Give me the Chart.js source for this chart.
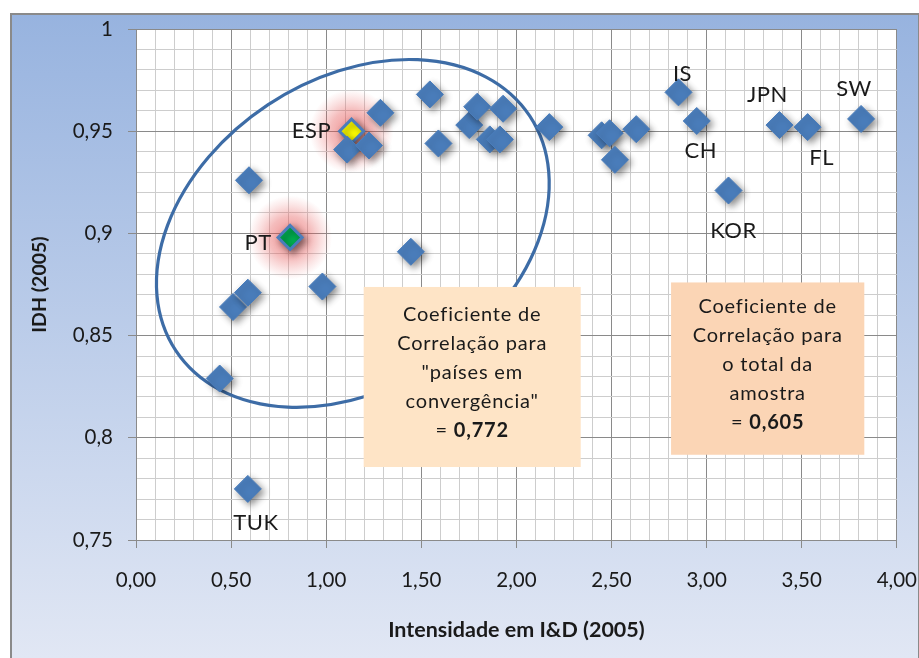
<!DOCTYPE html>
<html lang="pt">
<head>
<meta charset="UTF-8">
<title>IDH vs Intensidade em I&amp;D (2005)</title>
<script src="https://cdn.jsdelivr.net/npm/chart.js@4.4.1/dist/chart.umd.min.js"></script>
<style>
    body { margin: 0; background: #ffffff; }
    #wrap { width: 919px; height: 658px; }
</style>
</head>
<body>
<div id="wrap"><canvas id="idhChart" width="919" height="658"></canvas></div>
<script>
// Países (pontos azuis)
const intensidadeID = [0.44, 0.51, 0.588, 0.594, 0.588, 0.98, 1.11, 1.225, 1.285, 1.445,
    1.545, 1.59, 1.752, 1.794, 1.86, 1.913, 1.93, 2.173, 2.448, 2.49,
    2.518, 2.63, 2.852, 2.948, 3.115, 3.383, 3.531, 3.812];
const idh = [0.829, 0.864, 0.871, 0.926, 0.775, 0.874, 0.941, 0.943, 0.959, 0.891,
    0.968, 0.944, 0.953, 0.962, 0.946, 0.946, 0.961, 0.952, 0.948, 0.949,
    0.936, 0.951, 0.969, 0.955, 0.921, 0.953, 0.952, 0.956];
const rotulos = ['', '', '', '', 'TUK', '', '', '', '', '',
    '', '', '', '', '', '', '', '', '', '',
    '', '', 'IS', 'CH', 'KOR', 'JPN', 'FL', 'SW'];

// Portugal e Espanha em destaque
const destaqueNomes = ['PT', 'ESP'];
const destaqueID = [0.81, 1.133];
const destaqueIDH = [0.898, 0.950];
const destaqueCores = ['#00b050', '#ffff00'];

// Caixas de texto
const caixaConvergencia = ['Coeficiente de', 'Correlação para', '"países em', 'convergência"'];
const correlConvergencia = '0,772';
const caixaTotal = ['Coeficiente de', 'Correlação para', 'o total da', 'amostra'];
const correlTotal = '0,605';

const azul = '#4a7dbb';
const fonte = 'Lato, "Open Sans", sans-serif';

// deslocamento dos rótulos em px (centro do texto relativo ao ponto)
const posRotulo = {
    TUK: [8, 34], IS: [4, -18], CH: [4, 30], KOR: [5, 40],
    JPN: [-12, -30], FL: [14, 31], SW: [-7, -30], PT: [-32, 5], ESP: [-40, 0]
};

const isMajorX = v => Math.abs(v * 2 - Math.round(v * 2)) < 1e-6;
const isMajorY = v => Math.abs(v * 20 - Math.round(v * 20)) < 1e-6;

const fundoPlugin = {
    id: 'fundo',
    beforeDraw(chart) {
        const ctx = chart.ctx, a = chart.chartArea;
        ctx.save();
        ctx.fillStyle = '#ffffff';
        ctx.fillRect(0, 0, chart.width, chart.height);
        const g = ctx.createLinearGradient(0, 13, 0, chart.height);
        g.addColorStop(0, '#97b3df');
        g.addColorStop(1, '#e1e7f4');
        ctx.fillStyle = g;
        ctx.fillRect(10, 13, chart.width - 10, chart.height - 13);
        ctx.strokeStyle = '#8a8a8a';
        ctx.lineWidth = 2;
        ctx.strokeRect(11, 14, chart.width - 11, chart.height - 13);
        ctx.fillStyle = '#ffffff';
        ctx.fillRect(a.left, a.top, a.right - a.left, a.bottom - a.top);
        ctx.restore();
    }
};

function caixa(ctx, xs, ys, x0, x1, y0, y1, cor, linhas, valor) {
    const l = xs.getPixelForValue(x0), r = xs.getPixelForValue(x1);
    const t = ys.getPixelForValue(y1), b = ys.getPixelForValue(y0);
    ctx.fillStyle = cor;
    ctx.fillRect(l, t, r - l, b - t);
    const cx = (l + r) / 2;
    const passo = 29;
    const y0t = (t + b) / 2 - 4 - passo * 2;
    ctx.fillStyle = '#1a1a1a';
    ctx.textAlign = 'center';
    ctx.textBaseline = 'middle';
    ctx.letterSpacing = '0.8px';
    ctx.font = '20px ' + fonte;
    linhas.forEach((s, i) => ctx.fillText(s, cx, y0t + i * passo));
    // última linha: "= " normal + valor em negrito
    const yv = y0t + 4 * passo;
    const wEq = ctx.measureText('= ').width;
    ctx.font = 'bold 20px ' + fonte;
    const wVal = ctx.measureText(valor).width;
    const start = cx - (wEq + wVal) / 2;
    ctx.textAlign = 'left';
    ctx.font = '20px ' + fonte;
    ctx.fillText('= ', start, yv);
    ctx.font = 'bold 20px ' + fonte;
    ctx.fillText(valor, start + wEq, yv);
    ctx.letterSpacing = '0px';
}

const anotacoesPlugin = {
    id: 'anotacoes',
    beforeDatasetsDraw(chart) {
        const ctx = chart.ctx, xs = chart.scales.x, ys = chart.scales.y;
        ctx.save();
        // brilho vermelho em PT e ESP
        destaqueID.forEach((v, i) => {
            const px = xs.getPixelForValue(v), py = ys.getPixelForValue(destaqueIDH[i]);
            const g = ctx.createRadialGradient(px, py, 0, px, py, 42);
            g.addColorStop(0, 'rgba(228,70,70,0.6)');
            g.addColorStop(0.5, 'rgba(228,80,80,0.38)');
            g.addColorStop(1, 'rgba(235,110,110,0)');
            ctx.fillStyle = g;
            ctx.beginPath();
            ctx.arc(px, py, 42, 0, Math.PI * 2);
            ctx.fill();
        });
        // elipse dos países em convergência
        const unidade = xs.getPixelForValue(1) - xs.getPixelForValue(0);
        ctx.beginPath();
        ctx.ellipse(xs.getPixelForValue(1.14), ys.getPixelForValue(0.90),
            1.116 * unidade, 0.81 * unidade, -33.5 * Math.PI / 180, 0, Math.PI * 2);
        ctx.strokeStyle = '#3d6ca6';
        ctx.lineWidth = 3.2;
        ctx.stroke();
        // caixas de texto
        caixa(ctx, xs, ys, 1.197, 2.338, 0.7857, 0.8738, '#fee4c6', caixaConvergencia, correlConvergencia);
        caixa(ctx, xs, ys, 2.813, 3.829, 0.7917, 0.876, '#fbd5b5', caixaTotal, correlTotal);
        ctx.restore();
    },
    beforeDatasetDraw(chart) {
        const ctx = chart.ctx;
        ctx.save();
        ctx.shadowColor = 'rgba(0,0,0,0.45)';
        ctx.shadowBlur = 7;
        ctx.shadowOffsetX = 3;
        ctx.shadowOffsetY = 3;
    },
    afterDatasetDraw(chart) {
        chart.ctx.restore();
    },
    afterDatasetsDraw(chart) {
        const ctx = chart.ctx, xs = chart.scales.x, ys = chart.scales.y;
        ctx.save();
        ctx.fillStyle = '#1a1a1a';
        ctx.font = '22px ' + fonte;
        ctx.letterSpacing = '0.5px';
        ctx.textAlign = 'center';
        ctx.textBaseline = 'middle';
        const escreve = (nome, vx, vy) => {
            if (!nome) return;
            const d = posRotulo[nome];
            ctx.fillText(nome, xs.getPixelForValue(vx) + d[0], ys.getPixelForValue(vy) + d[1]);
        };
        rotulos.forEach((n, i) => escreve(n, intensidadeID[i], idh[i]));
        destaqueNomes.forEach((n, i) => escreve(n, destaqueID[i], destaqueIDH[i]));
        ctx.restore();
    }
};

new Chart(document.getElementById('idhChart'), {
    type: 'scatter',
    data: {
        datasets: [
            {
                label: 'Países',
                data: intensidadeID.map((v, i) => ({x: v, y: idh[i]})),
                pointStyle: 'rectRot',
                pointRadius: 13.5,
                backgroundColor: azul,
                borderColor: azul,
                borderWidth: 1
            },
            {
                label: 'Destaque',
                data: destaqueID.map((v, i) => ({x: v, y: destaqueIDH[i]})),
                pointStyle: 'rectRot',
                pointRadius: 12,
                backgroundColor: destaqueCores,
                borderColor: azul,
                borderWidth: 3
            }
        ]
    },
    options: {
        responsive: false,
        animation: false,
        events: [],
        layout: { padding: { left: 0, top: 29, right: 0, bottom: 0 } },
        plugins: { legend: { display: false }, tooltip: { enabled: false } },
        scales: {
            x: {
                type: 'linear',
                min: 0, max: 4,
                afterFit: s => { s.height = 118; },
                border: { color: '#8a8a8a', width: 1 },
                grid: {
                    color: c => isMajorX(c.tick.value) ? '#8a8a8a' : '#cdcdcd',
                    tickColor: c => isMajorX(c.tick.value) ? '#8a8a8a' : 'rgba(0,0,0,0)',
                    tickLength: 8
                },
                ticks: {
                    stepSize: 0.1,
                    maxTicksLimit: 1000,
                    autoSkip: false,
                    maxRotation: 0,
                    padding: 2,
                    color: '#1a1a1a',
                    font: { family: fonte, size: 20.5, lineHeight: 2.93 },
                    callback: v => isMajorX(v) ? v.toFixed(2).replace('.', ',') : ''
                },
                title: {
                    display: true,
                    text: 'Intensidade em I&D (2005)',
                    color: '#1a1a1a',
                    font: { family: fonte, size: 21.5, weight: 'bold' },
                    padding: { top: 0, bottom: 15 }
                }
            },
            y: {
                type: 'linear',
                min: 0.75, max: 1,
                afterFit: s => { s.width = 136; },
                border: { color: '#8a8a8a', width: 1 },
                grid: {
                    color: c => isMajorY(c.tick.value) ? '#8a8a8a' : '#cdcdcd',
                    tickColor: c => isMajorY(c.tick.value) ? '#8a8a8a' : 'rgba(0,0,0,0)',
                    tickLength: 8
                },
                ticks: {
                    stepSize: 0.01,
                    maxTicksLimit: 1000,
                    autoSkip: false,
                    padding: 15,
                    color: '#1a1a1a',
                    font: { family: fonte, size: 20.5 },
                    callback: v => isMajorY(v) ? String(Math.round(v * 100) / 100).replace('.', ',') : ''
                },
                title: {
                    display: true,
                    text: 'IDH (2005)',
                    color: '#1a1a1a',
                    font: { family: fonte, size: 19.5, weight: 'bold' },
                    padding: { top: 28, bottom: 0 }
                }
            }
        }
    },
    plugins: [fundoPlugin, anotacoesPlugin]
});
</script>
</body>
</html>
